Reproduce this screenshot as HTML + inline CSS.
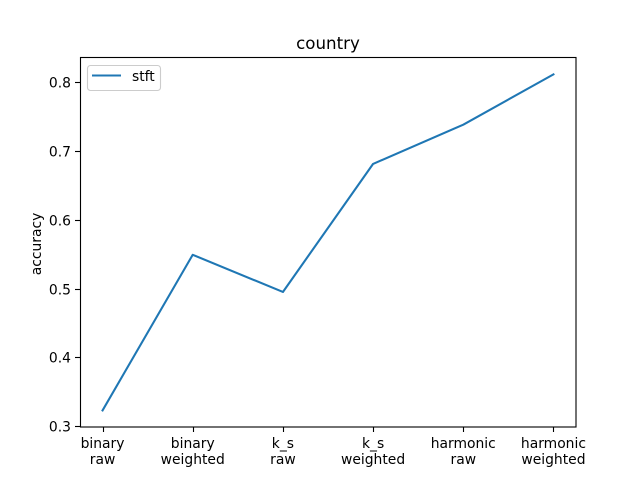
<!DOCTYPE html>
<html>
<head>
<meta charset="utf-8">
<style>
html,body{margin:0;padding:0;background:#fff;}
svg{display:block;}
text{font-family:"DejaVu Sans",sans-serif;fill:#000;}
</style>
</head>
<body>
<svg id="chart" width="640" height="480" viewBox="0 0 640 480" xmlns="http://www.w3.org/2000/svg">
<rect width="640" height="480" fill="#fff"/>
<text x="328" y="49" font-size="16.67" text-anchor="middle">country</text>
<text transform="translate(41 244) rotate(-90)" font-size="13.89" text-anchor="middle">accuracy</text>
<g id="marks"></g>
<rect x="80.5" y="57.5" width="495.5" height="369.5" fill="none" stroke="#000" stroke-width="1.11"/>
<g id="ticks"></g>
<g>
<rect x="87.5" y="65.5" width="73" height="25" rx="3" ry="3" fill="#fff" fill-opacity="0.8" stroke="#ccc" stroke-width="1.11"/>
<line x1="92" y1="75.5" x2="121" y2="75.5" stroke="#1f77b4" stroke-width="2.08"/>
<text x="132" y="81" font-size="13.89">stft</text>
</g>
</svg>
<script>
const categories = [["binary","raw"],["binary","weighted"],["k_s","raw"],["k_s","weighted"],["harmonic","raw"],["harmonic","weighted"]];
const stftValues = [0.323, 0.549, 0.495, 0.681, 0.738, 0.811];
const yTickValues = [0.3, 0.4, 0.5, 0.6, 0.7, 0.8];
const yTickLabels = ["0.3", "0.4", "0.5", "0.6", "0.7", "0.8"];

const NS = 'http://www.w3.org/2000/svg';
const plot = {left: 80, right: 576, top: 57.6, bottom: 427.2};
const xMin = -0.25, xMax = categories.length - 1 + 0.25;
const dataMin = Math.min(...stftValues), dataMax = Math.max(...stftValues);
const pad = (dataMax - dataMin) * 0.05;
const yMin = dataMin - pad, yMax = dataMax + pad;
function xScale(i) { return plot.left + (i - xMin) / (xMax - xMin) * (plot.right - plot.left); }
function yScale(v) { return plot.bottom - (v - yMin) / (yMax - yMin) * (plot.bottom - plot.top); }
function make(tag, attrs, parent) {
  const el = document.createElementNS(NS, tag);
  for (const k in attrs) el.setAttribute(k, attrs[k]);
  parent.appendChild(el);
  return el;
}
const marks = document.getElementById('marks');
const ticks = document.getElementById('ticks');

const pts = stftValues.map((v, i) => xScale(i).toFixed(2) + ',' + yScale(v).toFixed(2)).join(' ');
const seriesLine = make('polyline', {points: pts, fill: 'none', stroke: '#1f77b4', 'stroke-width': 2.08, 'stroke-linejoin': 'round', 'stroke-linecap': 'square'}, marks);



categories.forEach((lines, i) => {
  const x = Math.round(xScale(i)) + 0.5;
  const tick = make('line', {x1: x, x2: x, y1: 427, y2: 432, stroke: '#000', 'stroke-width': 1.11}, ticks);
  
  
  lines.forEach((line, j) => {
    const label = make('text', {x: xScale(i), y: 448 + j * 16, 'font-size': 13.89, 'text-anchor': 'middle'}, ticks);
    label.textContent = line;
    
    
  });
});

yTickValues.forEach((v, i) => {
  const y = Math.round(yScale(v)) + 0.5;
  const tick = make('line', {x1: 75, x2: 80, y1: y, y2: y, stroke: '#000', 'stroke-width': 1.11}, ticks);
  
  
  const label = make('text', {x: 71, y: y + 5, 'font-size': 13.89, 'text-anchor': 'end'}, ticks);
  label.textContent = yTickLabels[i];
  
  
});
</script>
</body>
</html>
